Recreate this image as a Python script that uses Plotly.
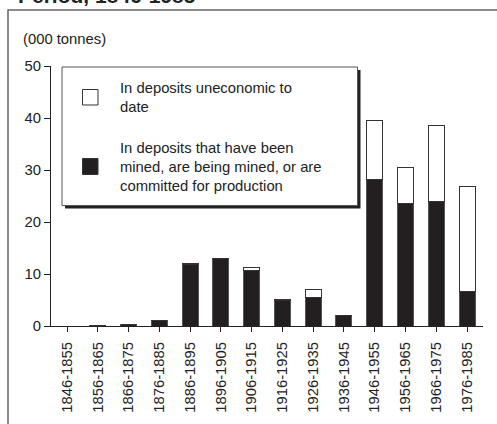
import plotly.graph_objects as go

categories = ["1846-1855", "1856-1865", "1866-1875", "1876-1885", "1886-1895",
              "1896-1905", "1906-1915", "1916-1925", "1926-1935", "1936-1945",
              "1946-1955", "1956-1965", "1966-1975", "1976-1985"]
mined = [0.0, 0.05, 0.2, 1.0, 11.9, 12.9, 10.6, 5.0, 5.5, 2.1, 28.2, 23.5, 24.0, 6.7]
uneconomic = [0.0, 0.0, 0.0, 0.0, 0.05, 0.05, 0.7, 0.05, 1.55, 0.0, 11.4, 7.0, 14.5, 20.2]
y_ticks = [0, 10, 20, 30, 40, 50]

legend_item1 = ["In deposits uneconomic to", "date"]
legend_item2 = ["In deposits that have been", "mined, are being mined, or are",
                "committed for production"]

FONT = "Liberation Sans, Arial, sans-serif"
DARK = "#231f20"
W, H = 497, 424
L, R, T, B = 51, 14, 66, 98
PW, PH = W - L - R, H - T - B


def px(xp):
    return (xp - L) / PW


def py(yp):
    return (H - B - yp) / PH


fig = go.Figure()
fig.add_trace(go.Bar(x=categories, y=mined, marker=dict(color=DARK, line=dict(color="#555", width=1)),
                     width=0.52, name="mined", showlegend=False))
fig.add_trace(go.Bar(x=categories, y=uneconomic, marker=dict(color="white", line=dict(color="#333", width=1)),
                     width=0.52, name="uneconomic", showlegend=False))

shapes = []
# outer frame (left + top visible)
shapes.append(dict(type="rect", xref="paper", yref="paper", x0=px(8), x1=px(515), y0=py(440), y1=py(10),
                   line=dict(color="#666", width=1.5), fillcolor="rgba(0,0,0,0)", layer="below"))
# legend shadow & box
shapes.append(dict(type="rect", xref="paper", yref="paper", x0=px(65), x1=px(360.5), y0=py(208.5), y1=py(70),
                   line=dict(width=0), fillcolor="#222"))
shapes.append(dict(type="rect", xref="paper", yref="paper", x0=px(62), x1=px(357.5), y0=py(205.5), y1=py(67),
                   line=dict(color="#555", width=1), fillcolor="white"))
# legend symbols
shapes.append(dict(type="rect", xref="paper", yref="paper", x0=px(82.5), x1=px(98), y0=py(105), y1=py(89.5),
                   line=dict(color="#333", width=1), fillcolor="white"))
shapes.append(dict(type="rect", xref="paper", yref="paper", x0=px(82.5), x1=px(98), y0=py(174.5), y1=py(158.5),
                   line=dict(color="#333", width=1), fillcolor=DARK))

annotations = []
annotations.append(dict(text="<b>Period, 1846-1985</b>", xref="paper", yref="paper", x=px(16), y=py(9),
                        xanchor="left", yanchor="bottom", showarrow=False,
                        font=dict(family=FONT, size=21, color="#222")))
annotations.append(dict(text="(000 tonnes)", xref="paper", yref="paper", x=px(21), y=py(39.5),
                        xanchor="left", yanchor="middle", showarrow=False,
                        font=dict(family=FONT, size=14.8, color="#222")))
for txt, yc in zip(legend_item1, [88.3, 106.7]):
    annotations.append(dict(text=txt, xref="paper", yref="paper", x=px(118), y=py(yc),
                            xanchor="left", yanchor="middle", showarrow=False,
                            font=dict(family=FONT, size=14.8, color="#222")))
for txt, yc in zip(legend_item2, [148.3, 167.3, 186.0]):
    annotations.append(dict(text=txt, xref="paper", yref="paper", x=px(118), y=py(yc),
                            xanchor="left", yanchor="middle", showarrow=False,
                            font=dict(family=FONT, size=14.8, color="#222")))

fig.update_layout(
    width=W, height=H, margin=dict(l=L, r=R, t=T, b=B),
    barmode="stack", plot_bgcolor="white", paper_bgcolor="white",
    shapes=shapes, annotations=annotations, showlegend=False,
    font=dict(family=FONT, size=14.5, color="#222"),
    xaxis=dict(range=[-0.52, 13.52], showgrid=False, showline=True, linecolor="#222", linewidth=1.2,
               ticks="outside", ticklen=5, tickcolor="#222", tickangle=-90, ticklabelstandoff=4,
               tickfont=dict(family=FONT, size=14.8, color="#222"), zeroline=False, fixedrange=True),
    yaxis=dict(range=[0, 50], tickvals=y_ticks, showgrid=False, showline=True, linecolor="#222", linewidth=1.2,
               ticks="outside", ticklen=6, tickcolor="#222",
               tickfont=dict(family=FONT, size=14.8, color="#222"), zeroline=False, fixedrange=True),
)

fig.write_html("out.html", config={"displayModeBar": False},
               post_script="document.body.style.margin='0';document.body.style.overflow='hidden';")
